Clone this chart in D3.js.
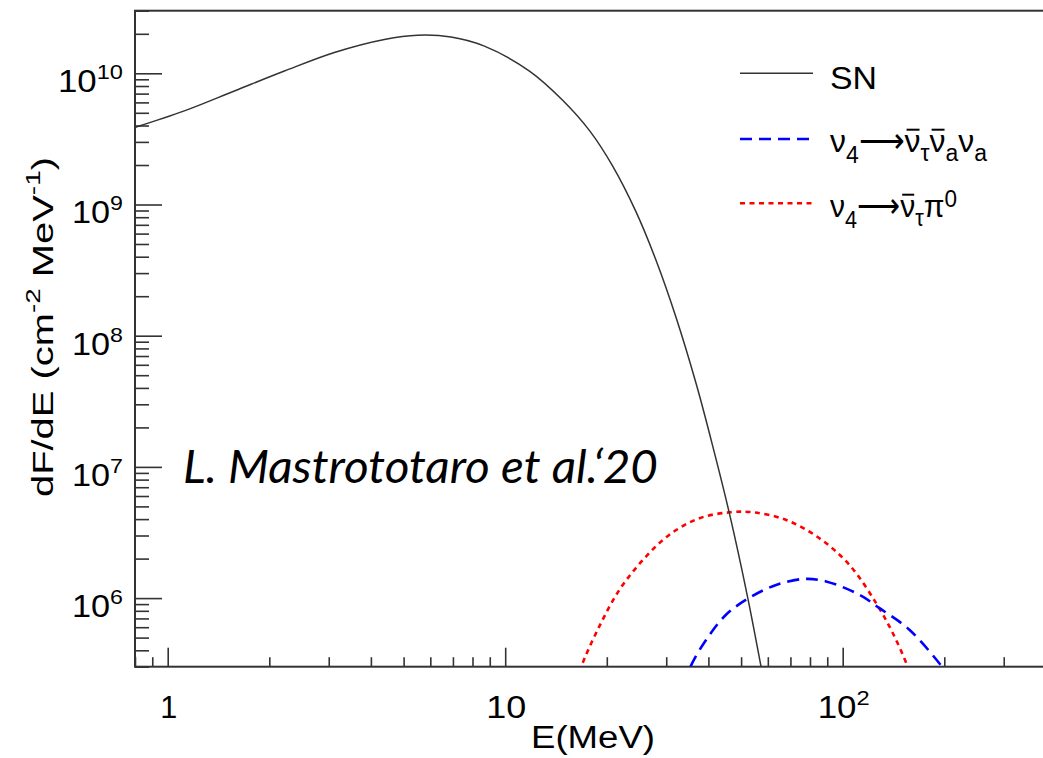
<!DOCTYPE html>
<html>
<head>
<meta charset="utf-8">
<script src="https://cdn.jsdelivr.net/npm/d3@7"></script>
<style>
  body { margin: 0; background: #fff; }
  svg { display: block; font-family: "Liberation Sans", Arial, Helvetica, sans-serif; }
</style>
</head>
<body>
<svg id="chart" width="1043" height="758"></svg>
<script>
// ===== data =====
// SN spectrum (E in MeV, dF/dE)
var snE = [0.797, 1.12, 1.576, 2.217, 3.118, 4.385, 5.505, 6.913, 8.677, 11.8, 14.8, 17.8, 20.8, 24.4, 28.0, 32.1, 36.8, 41.2, 46.2, 52.3, 57.3, 60];
var snF = [3.86e9, 5.17e9, 7.33e9, 1.04e10, 1.44e10, 1.81e10, 1.95e10, 1.89e10, 1.61e10, 1.04e10, 6.23e9, 3.64e9, 1.97e9, 8.82e8, 3.74e8, 1.37e8, 4.30e7, 1.44e7, 4.38e6, 1.01e6, 3.0e5, 1.6e5];

// nu4 -> nubar_tau pi0 (red, dotted)
var redE = [16.0, 16.8, 19.0, 21.8, 25.6, 30.6, 37.6, 46.4, 54.1, 68.0, 85.3, 104.7, 125.6, 140.7, 155.8, 162];
var redF = [2.0e5, 3.0e5, 6.08e5, 1.156e6, 1.955e6, 3.03e6, 4.06e6, 4.51e6, 4.51e6, 3.94e6, 2.86e6, 1.79e6, 9.16e5, 5.42e5, 3.0e5, 2.2e5];

// nu4 -> nubar_tau nubar_a nu_a (blue, dashed)
var blueE = [34.0, 35.4, 39.4, 45.1, 52.7, 63.5, 77.0, 89.3, 112.1, 128.5, 157.6, 197.0, 205];
var blueF = [2.2e5, 3.0e5, 4.82e5, 7.46e5, 1.0e6, 1.26e6, 1.40e6, 1.34e6, 1.06e6, 8.39e5, 5.74e5, 3.0e5, 2.6e5];

// axis ticks
var xMajor = [1, 10, 100];
var xLabels = [["1", ""], ["10", ""], ["10", "2"]];
var yMajor = [1e6, 1e7, 1e8, 1e9, 1e10];
var yLabels = ["6", "7", "8", "9", "10"];

// ===== layout =====
var plotLeft = 135, plotTop = 10.7, plotBottom = 666.7, plotRight = 1078.6;

var svg = d3.select("#chart");

var x = d3.scaleLog().domain([0.8, 500]).range([plotLeft, plotRight]);
var y = d3.scaleLog().domain([3e5, 3e10]).range([plotBottom, plotTop]);

svg.append("defs").append("clipPath").attr("id", "plotclip")
  .append("rect")
  .attr("x", plotLeft).attr("y", plotTop)
  .attr("width", plotRight - plotLeft).attr("height", plotBottom - plotTop);

// stretch a text sideways to the width seen in the picture
function fitWidth(t, w) {
  t.attr("textLength", w).attr("lengthAdjust", "spacingAndGlyphs");
  return t;
}

// minor / major ticks
var xMinor = x.ticks().filter(function (d) { return xMajor.indexOf(d) < 0; });
var yMinor = y.ticks().filter(function (d) { return yMajor.indexOf(d) < 0; });

function styleAxis(g) {
  g.select(".domain").remove();
  g.selectAll(".tick line").attr("stroke", "#333").attr("stroke-width", 1.6);
  g.selectAll(".tick text").remove();
}

svg.append("g")
  .attr("transform", "translate(0," + plotBottom + ")")
  .call(d3.axisBottom(x).tickValues(xMinor).tickSize(-9.5).tickFormat(""))
  .call(styleAxis);
svg.append("g")
  .attr("transform", "translate(0," + plotBottom + ")")
  .call(d3.axisBottom(x).tickValues(xMajor).tickSize(-19).tickFormat(""))
  .call(styleAxis);

svg.append("g")
  .attr("transform", "translate(" + plotLeft + ",0)")
  .call(d3.axisLeft(y).tickValues(yMinor).tickSize(-14).tickFormat(""))
  .call(styleAxis);
svg.append("g")
  .attr("transform", "translate(" + plotLeft + ",0)")
  .call(d3.axisLeft(y).tickValues(yMajor).tickSize(-27).tickFormat(""))
  .call(styleAxis);

// frame (right side runs off the picture)
svg.append("rect")
  .attr("x", plotLeft).attr("y", plotTop)
  .attr("width", plotRight - plotLeft).attr("height", plotBottom - plotTop)
  .attr("fill", "none").attr("stroke", "#333").attr("stroke-width", 2);

// x tick labels
var xWidths = [17, 40, 52];
xMajor.forEach(function (v, i) {
  var t = svg.append("text")
    .attr("x", x(v) - xWidths[i] / 2 + 1).attr("y", 718)
    .attr("font-size", 31).attr("fill", "#000");
  t.append("tspan").text(xLabels[i][0]);
  if (xLabels[i][1]) {
    t.append("tspan").attr("font-size", 21).attr("dy", -13).text(xLabels[i][1]);
  }
  fitWidth(t, xWidths[i]);
});

// y tick labels
yMajor.forEach(function (v, i) {
  var w = yLabels[i].length > 1 ? 65 : 51;
  var t = svg.append("text")
    .attr("x", 123 - w).attr("y", y(v) + 19)
    .attr("font-size", 31).attr("fill", "#000");
  t.append("tspan").text("10");
  t.append("tspan").attr("font-size", 21).attr("dy", -13).text(yLabels[i]);
  fitWidth(t, w);
});

// axis titles
fitWidth(svg.append("text")
  .attr("x", 531).attr("y", 748)
  .attr("font-size", 31).text("E(MeV)"), 124);

var yt = svg.append("text")
  .attr("transform", "translate(53,497) rotate(-90)")
  .attr("font-size", 30);
yt.append("tspan").text("dF/dE (cm");
yt.append("tspan").attr("font-size", 21).attr("dy", -13).text("-2");
yt.append("tspan").attr("dy", 13).text(" MeV");
yt.append("tspan").attr("font-size", 21).attr("dy", -13).text("-1");
yt.append("tspan").attr("dy", 13).text(")");
fitWidth(yt, 340);

// curves
var line = d3.line()
  .x(function (d) { return x(d[0]); })
  .y(function (d) { return y(d[1]); })
  .curve(d3.curveCatmullRom.alpha(0.5));

var plot = svg.append("g").attr("clip-path", "url(#plotclip)");

plot.append("path")
  .datum(d3.zip(redE, redF))
  .attr("d", line)
  .attr("fill", "none").attr("stroke", "#ff0000")
  .attr("stroke-width", 2.6).attr("stroke-dasharray", "5,4.5");

plot.append("path")
  .datum(d3.zip(blueE, blueF))
  .attr("d", line)
  .attr("fill", "none").attr("stroke", "#0000ff")
  .attr("stroke-width", 2.6).attr("stroke-dasharray", "12,7");

plot.append("path")
  .datum(d3.zip(snE, snF))
  .attr("d", line)
  .attr("fill", "none").attr("stroke", "#333")
  .attr("stroke-width", 1.5);

// legend
var leg = svg.append("g");
leg.append("line").attr("x1", 740).attr("x2", 813).attr("y1", 73.3).attr("y2", 73.3)
  .attr("stroke", "#333").attr("stroke-width", 1.5);
fitWidth(leg.append("text").attr("x", 830).attr("y", 88.5).attr("font-size", 32).text("SN"), 47);

// overbar above given characters of a legend text
function overbar(t, idx) {
  var node = t.node();
  idx.forEach(function (k) {
    var a = node.getStartPositionOfChar(k), b = node.getEndPositionOfChar(k);
    leg.append("line")
      .attr("x1", a.x + 2).attr("x2", b.x - 1)
      .attr("y1", a.y - 22).attr("y2", a.y - 22)
      .attr("stroke", "#000").attr("stroke-width", 2);
  });
}

leg.append("line").attr("x1", 740).attr("x2", 812).attr("y1", 139).attr("y2", 139)
  .attr("stroke", "#0000ff").attr("stroke-width", 2.6).attr("stroke-dasharray", "12,7");
var l2 = leg.append("text").attr("x", 830).attr("y", 151.7).attr("font-size", 32);
l2.append("tspan").text("\u03bd");
l2.append("tspan").attr("font-size", 23).attr("dy", 11).text("4");
l2.append("tspan").attr("dy", -11).text("\u27f6\u03bd");
l2.append("tspan").attr("font-size", 23).attr("dy", 9).text("\u03c4");
l2.append("tspan").attr("dy", -9).text("\u03bd");
l2.append("tspan").attr("font-size", 23).attr("dy", 9).text("a");
l2.append("tspan").attr("dy", -9).text("\u03bd");
l2.append("tspan").attr("font-size", 23).attr("dy", 9).text("a");
fitWidth(l2, 157);
overbar(l2, [3, 5]);

leg.append("line").attr("x1", 740).attr("x2", 814).attr("y1", 203.3).attr("y2", 203.3)
  .attr("stroke", "#ff0000").attr("stroke-width", 2.6).attr("stroke-dasharray", "5,4.5");
var l3 = leg.append("text").attr("x", 830).attr("y", 216.7).attr("font-size", 32);
l3.append("tspan").text("\u03bd");
l3.append("tspan").attr("font-size", 23).attr("dy", 11).text("4");
l3.append("tspan").attr("dy", -11).text("\u27f6\u03bd");
l3.append("tspan").attr("font-size", 23).attr("dy", 9).text("\u03c4");
l3.append("tspan").attr("dy", -9).text("\u03c0");
l3.append("tspan").attr("font-size", 24).attr("dy", -10).text("0");
fitWidth(l3, 127);
overbar(l3, [3]);

// annotation
svg.append("text")
  .attr("x", 183).attr("y", 483)
  .attr("font-family", "Lato, 'Open Sans', sans-serif")
  .attr("font-style", "italic")
  .attr("font-size", 46)
  .attr("textLength", 475)
  .attr("lengthAdjust", "spacingAndGlyphs")
  .text("L. Mastrototaro et al.\u201820");
</script>
</body>
</html>
